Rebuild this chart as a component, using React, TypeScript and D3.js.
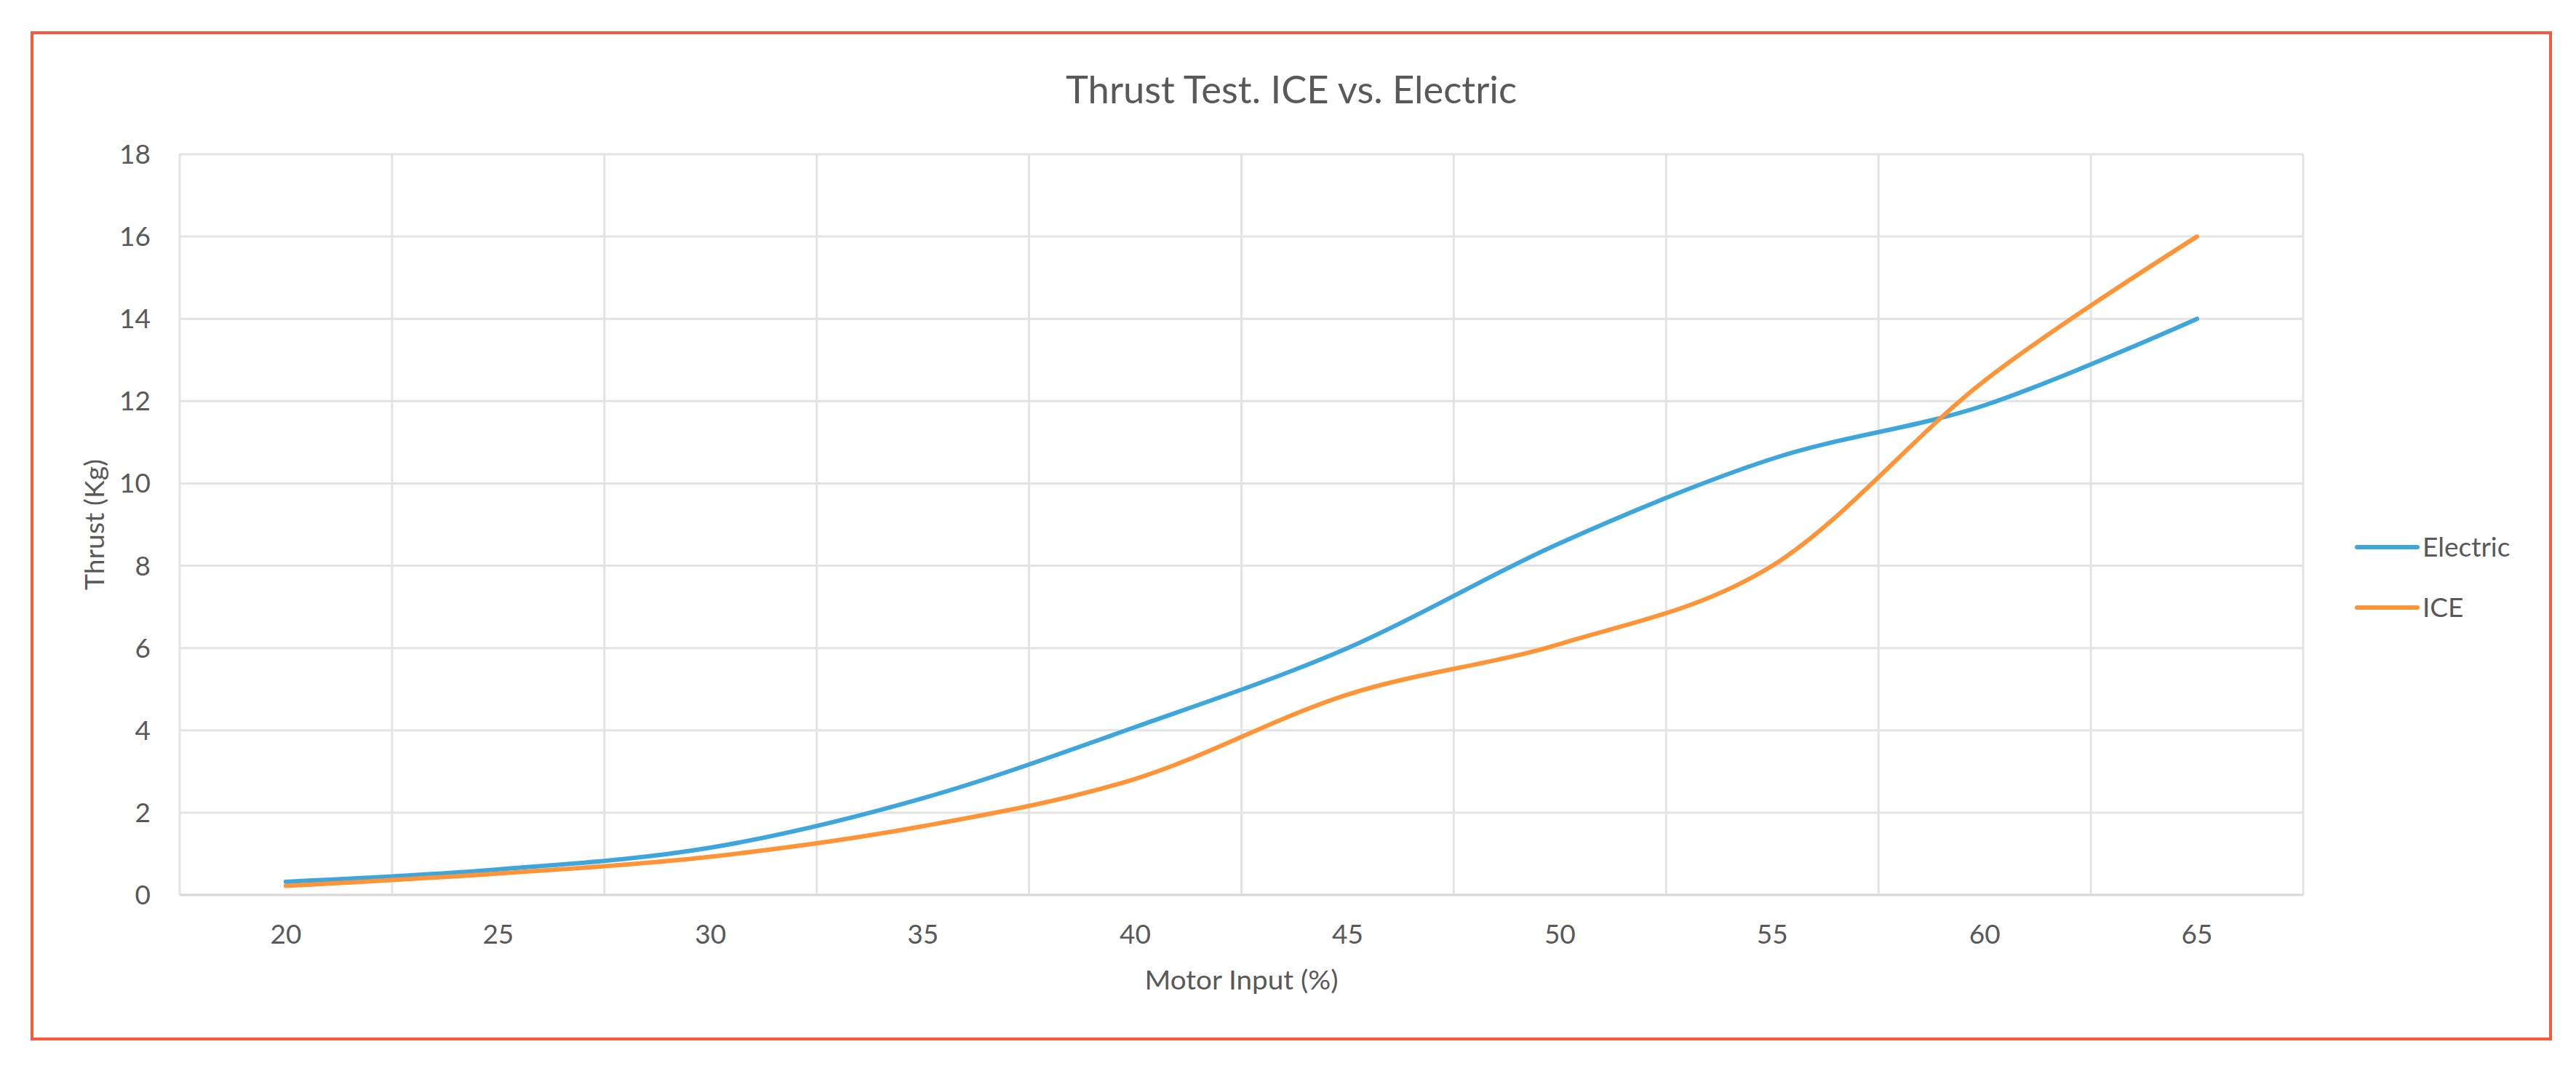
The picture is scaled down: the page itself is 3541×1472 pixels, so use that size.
import { useMemo } from 'react';

import { curveCardinal, line, scaleBand, scaleLinear } from 'd3';

const categories = ['20', '25', '30', '35', '40', '45', '50', '55', '60', '65'];
const electric = [0.32, 0.62, 1.15, 2.35, 4.08, 6.0, 8.55, 10.6, 11.9, 14.0];
const ice = [0.22, 0.52, 0.93, 1.67, 2.82, 4.87, 6.1, 8.0, 12.5, 16.0];
const yTicks = [0, 2, 4, 6, 8, 10, 12, 14, 16, 18];

const seriesNames = ['Electric', 'ICE'];
const seriesColors = ['#3CA6DD', '#FF9436'];

const font = 'Lato, "Open Sans", sans-serif';
const textColor = '#595959';

export default function App() {
  const width = 3541,
    height = 1472;

  // plot area
  const left = 247,
    right = 3166,
    top = 212,
    bottom = 1230;

  const x = useMemo(
    () => scaleBand<string>().domain(categories).range([left, right]).padding(0),
    [],
  );
  const y = useMemo(() => scaleLinear().domain([0, 18]).range([bottom, top]), []);

  const cx = (c: string) => (x(c) ?? 0) + x.bandwidth() / 2;

  const pathFor = (values: number[]) =>
    line<number>()
      .x((_, i) => cx(categories[i]))
      .y((d) => y(d))
      .curve(curveCardinal.tension(0))(values) ?? '';

  const series = [electric, ice];

  // category boundaries for vertical gridlines
  const boundaries = categories.map((c) => x(c) ?? 0).concat([right]);

  return (
    <div style={{ position: 'absolute', left: 0, top: 0 }}>
      <svg width={width} height={height} style={{ display: 'block', background: '#fff' }}>
        <rect x={0} y={0} width={width} height={height} fill="#fff" />

        {/* outer red frame */}
        <rect x={44} y={45} width={3462} height={1383} fill="none" stroke="#F8583C" strokeWidth={4} />

        {/* title */}
        <text
          x={1775}
          y={142}
          textAnchor="middle"
          fontFamily={font}
          fontSize={52}
          fill={textColor}
          textLength={620}
          lengthAdjust="spacingAndGlyphs"
        >
          Thrust Test. ICE vs. Electric
        </text>

        {/* gridlines */}
        <g stroke="#E3E3E3" strokeWidth={3}>
          {yTicks.map((t) => (
            <line key={`h${t}`} x1={left} x2={right} y1={y(t)} y2={y(t)} />
          ))}
          {boundaries.map((b, i) => (
            <line key={`v${i}`} x1={b} x2={b} y1={top} y2={bottom} />
          ))}
        </g>
        <line x1={left} x2={right} y1={bottom} y2={bottom} stroke="#D9D9D9" strokeWidth={3} />

        {/* y tick labels */}
        <g fontFamily={font} fontSize={37} fill={textColor} textAnchor="end">
          {yTicks.map((t) => (
            <text key={t} x={207} y={y(t) + 13}>
              {t}
            </text>
          ))}
        </g>

        {/* x tick labels */}
        <g fontFamily={font} fontSize={37} fill={textColor} textAnchor="middle">
          {categories.map((c) => (
            <text key={c} x={cx(c)} y={1297}>
              {c}
            </text>
          ))}
        </g>

        {/* axis titles */}
        <text
          x={(left + right) / 2}
          y={1360}
          textAnchor="middle"
          fontFamily={font}
          fontSize={37}
          fill={textColor}
          textLength={266}
          lengthAdjust="spacingAndGlyphs"
        >
          Motor Input (%)
        </text>
        <text
          transform={`translate(143,${(top + bottom) / 2}) rotate(-90)`}
          textAnchor="middle"
          fontFamily={font}
          fontSize={37}
          fill={textColor}
          textLength={180}
          lengthAdjust="spacingAndGlyphs"
        >
          Thrust (Kg)
        </text>

        {/* series */}
        <g fill="none" strokeWidth={6} strokeLinecap="round" strokeLinejoin="round">
          {series.map((s, i) => (
            <path key={seriesNames[i]} d={pathFor(s)} stroke={seriesColors[i]} />
          ))}
        </g>

        {/* legend */}
        <g fontFamily={font} fontSize={37} fill={textColor}>
          {seriesNames.map((name, i) => {
            const ly = 752 + i * 83;
            return (
              <g key={name}>
                <line x1={3240} x2={3323} y1={ly} y2={ly} stroke={seriesColors[i]} strokeWidth={6} strokeLinecap="round" />
                <text x={3330} y={ly + 13}>
                  {name}
                </text>
              </g>
            );
          })}
        </g>
      </svg>
    </div>
  );
}
